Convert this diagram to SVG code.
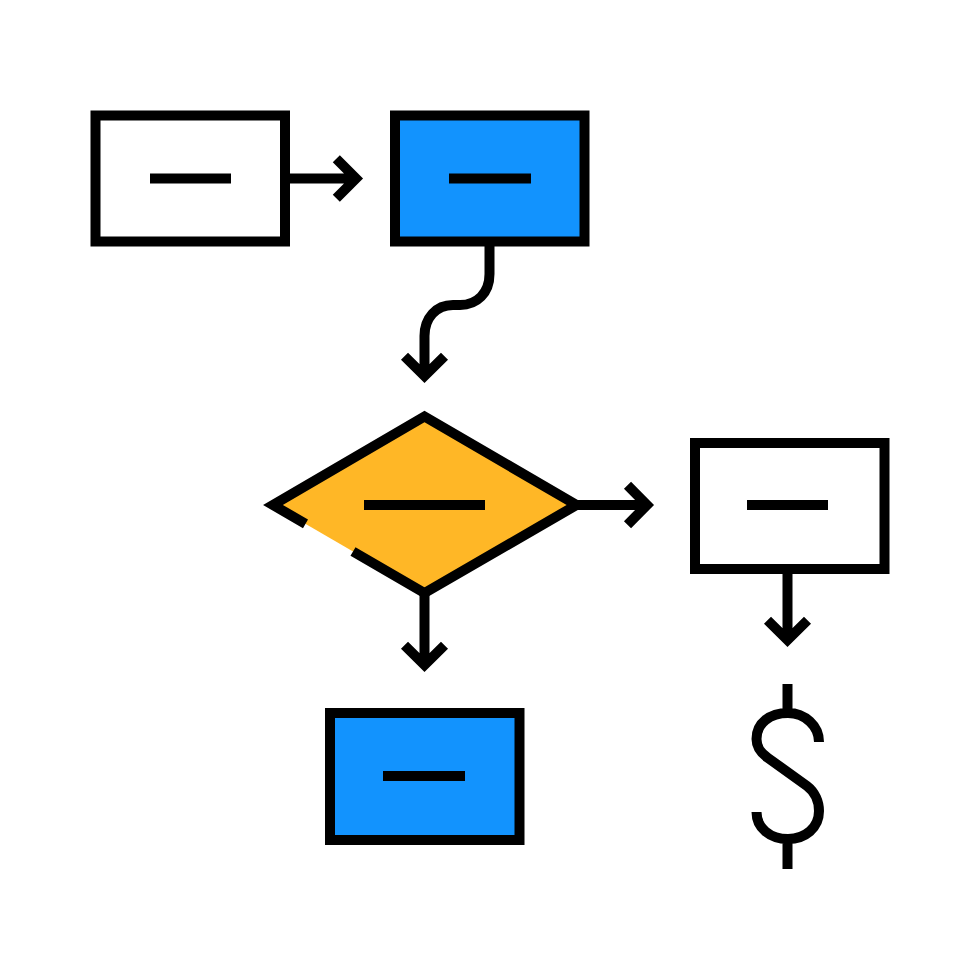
<svg xmlns="http://www.w3.org/2000/svg" width="980" height="980" viewBox="0 0 980 980">
<style>
.s{stroke:#000;stroke-width:10;fill:none}
.w{fill:#fff}.b{fill:#1293fe}
</style>
<rect width="980" height="980" fill="#fff"/>
<g id="connectors" class="s">
<path d="M290 178.500H356M336.300 158.700L356 178.500L336.300 198.300"/>
<path d="M489.500 244V274C489.500 293 477 305 460 305H453C436 305 424.500 318 424.500 336V376M404.500 356.300L424.500 376L444.500 356.300"/>
<path d="M576 505H647M627.500 485.300L647 505L627.500 524.700"/>
<path d="M424.500 592V665M404.500 645.300L424.500 665L444.500 645.300"/>
<path d="M787.500 572V640M767.500 620.300L787.500 640L807.500 620.300"/>
</g>
<g id="node-1"><rect class="s w" x="95.500" y="115.500" width="189.500" height="126"/><path class="s" d="M150 178.500H231"/></g>
<g id="node-2"><rect class="s b" x="395" y="115.500" width="189.500" height="126"/><path class="s" d="M449 178.500H531"/></g>
<g id="node-decision">
<path fill="#ffb726" d="M273 505L424.500 416.500L576.500 505L424.500 593Z"/>
<path class="s" d="M305.500 523.800L273 505L424.500 416.500L576.500 505L424.500 593L353 551.500"/>
<path class="s" d="M364 505H485"/>
</g>
<g id="node-3"><rect class="s w" x="695" y="443" width="189.500" height="126"/><path class="s" d="M747 505H828"/></g>
<g id="node-4"><rect class="s b" x="330" y="713" width="189.500" height="127"/><path class="s" d="M383 776H465"/></g>
<g id="node-dollar">
<path class="s" d="M787.500 684V713M787.500 839V869M819 742C819 726 805 713 788 713C770 713 756.500 723 756.500 739C756.500 748 761 753 768 758L807 786C815 792 819 802 819 811C819 828 805 839 788 839C770 839 756.500 828 756.500 812"/>
</g>
</svg>
